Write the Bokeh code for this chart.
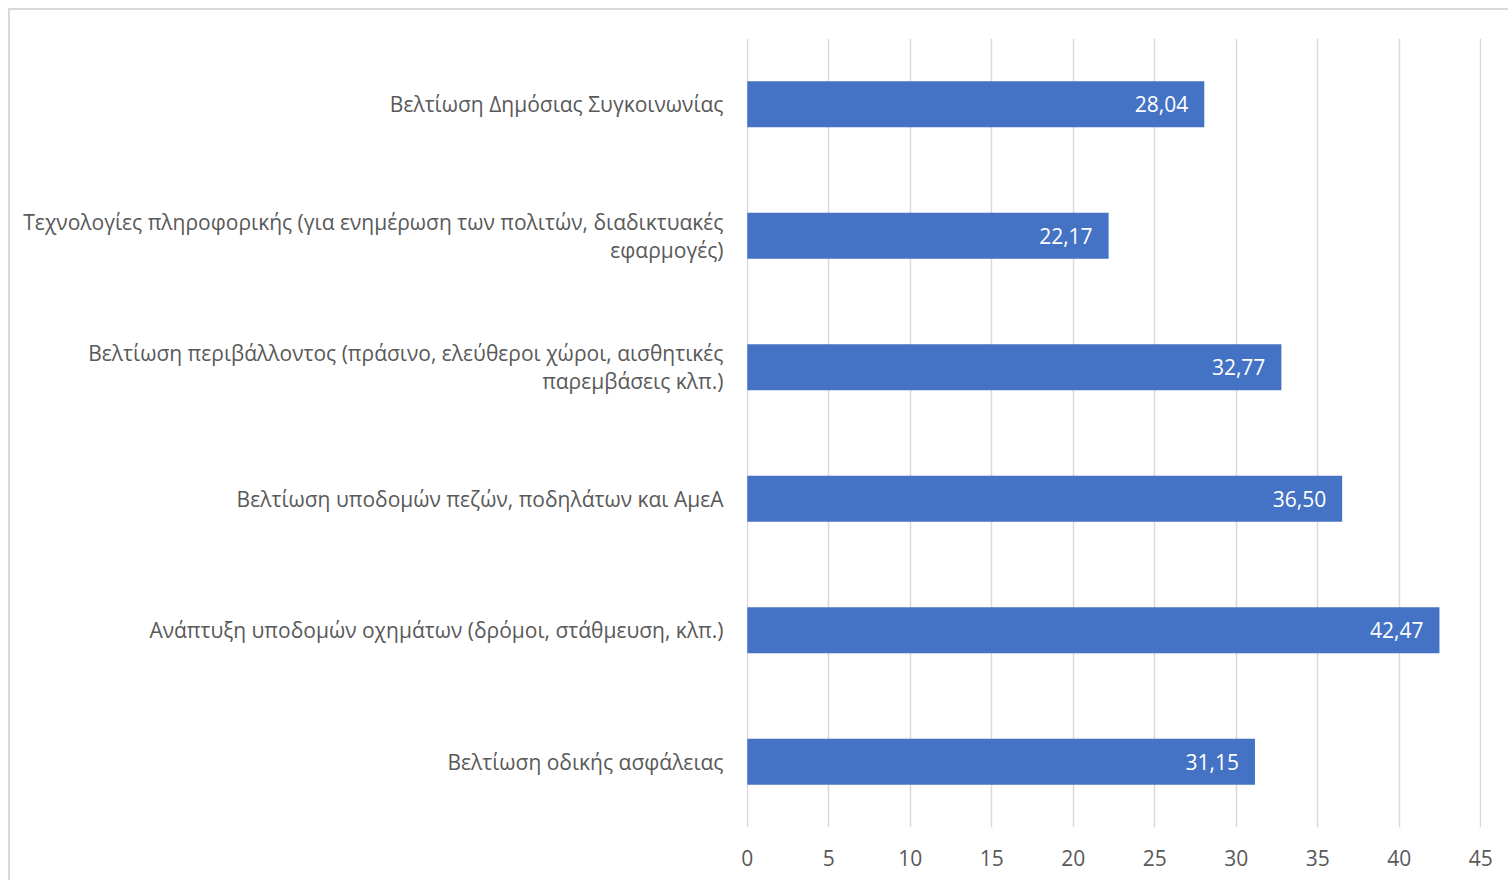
from bokeh.plotting import figure
from bokeh.models import ColumnDataSource, FactorRange, Range1d, FixedTicker
from bokeh.embed import file_html
from bokeh.resources import INLINE
from bokeh.core.properties import value

categories = [
    "Βελτίωση οδικής ασφάλειας",
    "Ανάπτυξη υποδομών οχημάτων (δρόμοι, στάθμευση, κλπ.)",
    "Βελτίωση υποδομών πεζών, ποδηλάτων και ΑμεΑ",
    "Βελτίωση περιβάλλοντος (πράσινο, ελεύθεροι χώροι, αισθητικές\nπαρεμβάσεις κλπ.)",
    "Τεχνολογίες πληροφορικής (για ενημέρωση των πολιτών, διαδικτυακές\nεφαρμογές)",
    "Βελτίωση Δημόσιας Συγκοινωνίας",
]
values = [31.15, 42.47, 36.50, 32.77, 22.17, 28.04]
labels = ["31,15", "42,47", "36,50", "32,77", "22,17", "28,04"]
x_ticks = [0, 5, 10, 15, 20, 25, 30, 35, 40, 45]

FONT = "Open Sans"
GRAY = "#595959"
FS = "21px"

src = ColumnDataSource(dict(cat=categories, val=values, lab=labels))

p = figure(
    width=1500, height=872,
    y_range=FactorRange(*categories, range_padding=0),
    x_range=Range1d(-0.05, 45.05),
    output_backend="svg", toolbar_location=None,
    min_border_left=736, min_border_right=29, min_border_top=28, min_border_bottom=55,
)
p.margin = (8, 0, 0, 8)
p.styles = {"border-left": "2px solid #d9d9d9", "border-top": "2px solid #d9d9d9"}
p.outline_line_color = None

p.hbar(y="cat", right="val", left=0, height=0.35, source=src,
       fill_color="#4472C4", line_color=None)
p.text(x="val", y="cat", text="lab", source=src, x_offset=-16,
       text_align="right", text_baseline="middle", text_color="white",
       text_font=value(FONT), text_font_size=FS)

p.xgrid.ticker = FixedTicker(ticks=x_ticks)
p.xgrid.grid_line_color = "#d9d9d9"
p.xgrid.grid_line_width = 1.5
p.ygrid.grid_line_color = None

p.xaxis.ticker = FixedTicker(ticks=x_ticks)
p.xaxis.axis_line_color = None
p.xaxis.major_tick_line_color = None
p.xaxis.minor_tick_line_color = None
p.xaxis.major_tick_out = 0
p.xaxis.major_label_text_font = FONT
p.xaxis.major_label_text_font_size = FS
p.xaxis.major_label_text_color = GRAY
p.xaxis.major_label_standoff = 22

p.yaxis.axis_line_color = None
p.yaxis.major_tick_line_color = None
p.yaxis.minor_tick_line_color = None
p.yaxis.major_tick_out = 0
p.yaxis.major_label_text_font = FONT
p.yaxis.major_label_text_font_size = FS
p.yaxis.major_label_text_color = GRAY
p.yaxis.major_label_text_line_height = 1.0
p.yaxis.major_label_text_align = "center"
p.yaxis.major_label_standoff = 23

open("out.html", "w").write(file_html(p, INLINE))
